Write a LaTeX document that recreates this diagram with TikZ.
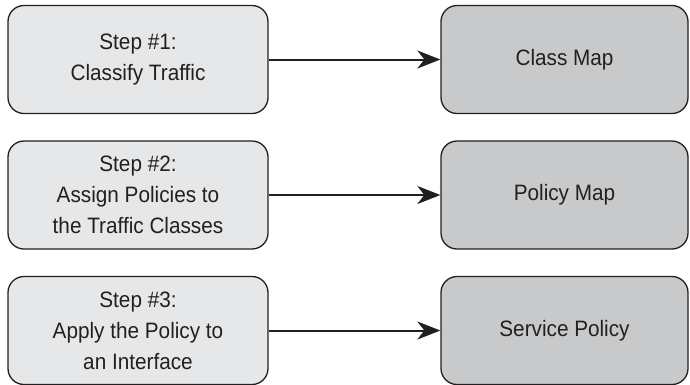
\documentclass[tikz,border=0pt]{standalone}
\usepackage{fontspec}
\setmainfont[FakeStretch=0.93]{Liberation Sans}
\usetikzlibrary{arrows.meta}
\definecolor{edgec}{HTML}{231F20}
\definecolor{lightf}{HTML}{E6E7E8}
\definecolor{darkf}{HTML}{C8C9CA}
\tikzset{
  stepbox/.style={draw=edgec, line width=1.3pt, rounded corners=16pt, fill=lightf,
    minimum width=260pt, minimum height=108pt, inner sep=0pt, align=center,
    text=edgec, font=\fontsize{22.3}{31}\selectfont},
  mapbox/.style={stepbox, fill=darkf, minimum width=247pt},
  flow/.style={draw=edgec, line width=2pt, -{Stealth[length=23pt,width=18pt,inset=7pt]}}
}
\begin{document}
\begin{tikzpicture}[x=1pt,y=-1pt]
\useasboundingbox (0,0) rectangle (690,384);
\node[stepbox] (s1) at (138,59.5) {Step \#1:\\Classify Traffic};
\node[stepbox] (s2) at (138,195) {Step \#2:\\Assign Policies to\\the Traffic Classes};
\node[stepbox] (s3) at (138,330.5) {Step \#3:\\Apply the Policy to\\an Interface};
\node[mapbox] (m1) at (564.5,59.5) {Class Map};
\node[mapbox] (m2) at (564.5,195) {Policy Map};
\node[mapbox] (m3) at (564.5,330.5) {Service Policy};
\draw[flow] (s1) -- (m1);
\draw[flow] (s2) -- (m2);
\draw[flow] (s3) -- (m3);
\end{tikzpicture}
\end{document}
